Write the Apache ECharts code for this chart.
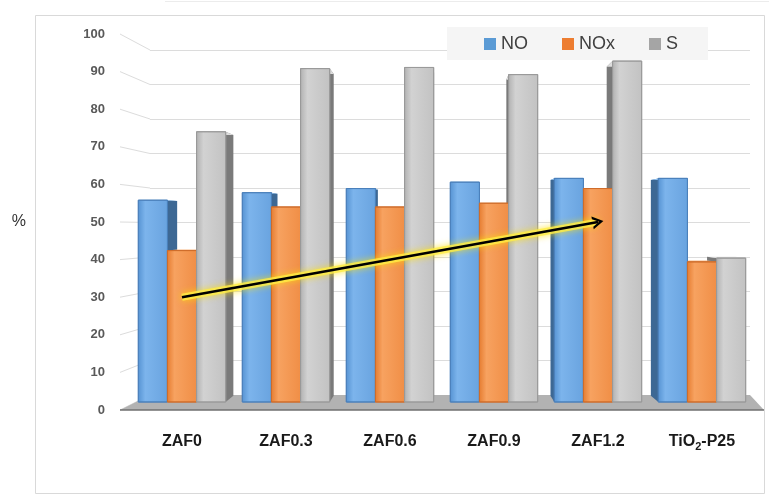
<!DOCTYPE html>
<html>
<head>
<meta charset="utf-8">
<script src="https://cdn.jsdelivr.net/npm/echarts@6/dist/echarts.min.js"></script>
<style>
  html, body { margin: 0; padding: 0; background: #ffffff; }
  #chart { width: 769px; height: 498px; }
</style>
</head>
<body>
<div id="chart"></div>
<script>
// Conversion of NO, NOx and selectivity (S) for each photocatalyst, in %
const categories = ['ZAF0', 'ZAF0.3', 'ZAF0.6', 'ZAF0.9', 'ZAF1.2', 'TiO2-P25'];
const noValues   = [55.8, 57.8, 58.9, 60.6, 61.6, 61.6];
const noxValues  = [42.4, 54.0, 54.0, 55.0, 58.9, 39.4];
const sValues    = [74.0, 90.8, 91.1, 89.2, 92.8, 40.4];

// value axis range and step
const yMin = 0, yMax = 100, yStep = 10;

// trend arrow drawn over the NOx bars, from ZAF0 to ZAF1.2
const trendStart = [categories[0], 30];
const trendEnd   = [categories[4], 50];

// pseudo-3D look
const VANISH_X = 445;      // horizontal vanishing point of the bar sides
const DEPTH = 0.965;       // back-face shrink toward the eye point
const EYE_VALUE = 50;      // value at eye height
const FLOOR_INSET = 8;     // bars stand a little behind the floor's front edge
const BAR_FRAC = 0.28;     // bar width as share of a category band

const palettes = {
  NO:  { legend: '#5b9bd5', stops: ['#5592d2', '#7cb4ec', '#69a3df'], edge: '#4b80bb', side: '#3d6894', top: '#93c2f0' },
  NOx: { legend: '#ed7d31', stops: ['#e57b2f', '#f7a260', '#f08e46'], edge: '#cf6d2b', side: '#b45c1c', top: '#f8b884' },
  S:   { legend: '#a5a5a5', stops: ['#b0b0b0', '#d2d2d2', '#c2c2c2'], edge: '#9a9a9a', side: '#7a7a7a', top: '#dedede' }
};

function bar3D(slot, pal) {
  const fill = new echarts.graphic.LinearGradient(0, 0, 1, 0, [
    { offset: 0, color: pal.stops[0] },
    { offset: 0.25, color: pal.stops[1] },
    { offset: 1, color: pal.stops[2] }
  ]);
  return function (params, api) {
    const i = api.value(0);
    const v = api.value(1);
    const base = api.coord([i, yMin]);
    const top = api.coord([i, v]);
    const eyeY = api.coord([i, EYE_VALUE])[1];
    const band = api.size([1, 0])[0];
    const w = band * BAR_FRAC;
    const cx = base[0] + slot * w;
    const xl = cx - w / 2, xr = cx + w / 2;
    const yT = top[1], yB = base[1] - FLOOR_INSET;
    const bx = x => VANISH_X + (x - VANISH_X) * DEPTH;
    const by = y => eyeY + (y - eyeY) * DEPTH;
    const children = [];
    let sx = null;
    if (xr < VANISH_X) sx = xr; else if (xl > VANISH_X) sx = xl;
    if (sx !== null) {
      children.push({
        type: 'polygon', z2: 1,
        shape: { points: [[sx, yT], [bx(sx), by(yT)], [bx(sx), by(yB)], [sx, yB]] },
        style: { fill: pal.side }
      });
    }
    children.push({
      type: 'polygon', z2: 2,
      shape: { points: [[xl, yT], [xr, yT], [bx(xr), by(yT)], [bx(xl), by(yT)]] },
      style: { fill: pal.top }
    });
    children.push({
      type: 'rect', z2: 10,
      shape: { x: xl, y: yT, width: w, height: yB - yT },
      style: { fill: fill, stroke: pal.edge, lineWidth: 1 }
    });
    return { type: 'group', children: children };
  };
}

function seriesData(values) {
  return values.map((v, i) => [i, v]);
}

const labelFont = 'Liberation Sans, Arial, sans-serif';
const arrowHead = 'path://M0,10 L5,0 L10,10 L8,10 L5,4 L2,10 Z';

// "O2" in a sample name is written with a subscript 2
function categoryLabel(name) {
  const k = name.indexOf('O2');
  if (k < 0) return '{n|' + name + '}';
  return '{n|' + name.slice(0, k + 1) + '}{sub|2}{n|' + name.slice(k + 2) + '}';
}

const chart = echarts.init(document.getElementById('chart'), null, { renderer: 'canvas' });

const option = {
  animation: false,
  backgroundColor: '#ffffff',
  legend: {
    left: 447, top: 27,
    padding: [8, 30, 7, 37],
    backgroundColor: '#f5f5f5',
    itemWidth: 12, itemHeight: 12, itemGap: 34,
    icon: 'rect',
    textStyle: { fontFamily: labelFont, fontSize: 18, color: '#404040' },
    data: ['NO', 'NOx', 'S']
  },
  grid: [
    // front plane: value labels and bars
    { left: 130, right: 15, top: 34, bottom: 88 },
    // back wall: gridlines
    { left: 150, right: 19, top: 50, bottom: 103 }
  ],
  xAxis: [
    {
      type: 'category', gridIndex: 0, data: categories,
      axisLine: { show: false }, axisTick: { show: false },
      axisLabel: {
        interval: 0, margin: 22,
        formatter: categoryLabel,
        rich: {
          n: { fontFamily: labelFont, fontSize: 16, fontWeight: 'bold', color: '#1a1a1a', lineHeight: 20 },
          sub: { fontFamily: labelFont, fontSize: 11, fontWeight: 'bold', color: '#1a1a1a', lineHeight: 13, verticalAlign: 'bottom' }
        }
      }
    },
    { type: 'category', gridIndex: 1, data: categories, show: false }
  ],
  yAxis: [
    {
      type: 'value', gridIndex: 0, min: yMin, max: yMax, interval: yStep,
      name: '%', nameLocation: 'middle', nameRotate: 0, nameGap: 104,
      nameTextStyle: { fontFamily: labelFont, fontSize: 16, color: '#333333', padding: [0, 0, 16, 0] },
      axisLine: { show: false }, axisTick: { show: false }, splitLine: { show: false },
      axisLabel: { margin: 25, fontFamily: labelFont, fontSize: 13, fontWeight: 'bold', color: '#595959' }
    },
    {
      type: 'value', gridIndex: 1, min: yMin, max: yMax, interval: yStep,
      axisLine: { show: false }, axisTick: { show: false }, axisLabel: { show: false },
      splitLine: { lineStyle: { color: '#dcdcdc', width: 1 } }
    }
  ],
  series: [
    {
      name: 'NO', type: 'custom', xAxisIndex: 0, yAxisIndex: 0,
      itemStyle: { color: palettes.NO.legend },
      renderItem: bar3D(-1, palettes.NO),
      data: seriesData(noValues)
    },
    {
      name: 'NOx', type: 'custom', xAxisIndex: 0, yAxisIndex: 0,
      itemStyle: { color: palettes.NOx.legend },
      renderItem: bar3D(0, palettes.NOx),
      data: seriesData(noxValues),
      markLine: {
        silent: true, z: 20,
        symbol: ['none', arrowHead],
        symbolSize: [13, 11],
        label: { show: false },
        data: [
          // soft yellow glow under the arrow
          [
            { coord: trendStart, symbol: 'none',
              lineStyle: { type: 'solid', color: 'rgba(255, 238, 70, 0.8)', width: 7, shadowColor: 'rgba(255, 225, 0, 0.9)', shadowBlur: 7 } },
            { coord: trendEnd, symbol: 'none' }
          ],
          [
            { coord: trendStart, lineStyle: { type: 'solid', color: '#000000', width: 2.6 } },
            { coord: trendEnd }
          ]
        ]
      }
    },
    {
      name: 'S', type: 'custom', xAxisIndex: 0, yAxisIndex: 0,
      itemStyle: { color: palettes.S.legend },
      renderItem: bar3D(1, palettes.S),
      data: seriesData(sValues)
    }
  ]
};

chart.setOption(option);

// Side wall lines and floor, placed from both grids' value scales
function wallAndFloor() {
  const front = v => chart.convertToPixel({ xAxisIndex: 0, yAxisIndex: 0 }, [0, v])[1];
  const back = v => chart.convertToPixel({ xAxisIndex: 1, yAxisIndex: 1 }, [0, v])[1];
  const frontLeft = 120, wallLeft = 150, wallRight = 750, frontRight = 764;
  const els = [];
  for (let v = yMin; v <= yMax; v += yStep) {
    els.push({
      type: 'line', z: 0,
      shape: { x1: frontLeft, y1: front(v), x2: wallLeft, y2: back(v) },
      style: { stroke: '#dcdcdc', lineWidth: 1 }
    });
  }
  els.push({
    type: 'polygon', z: 1,
    shape: { points: [[frontLeft, front(yMin)], [frontRight, front(yMin)], [wallRight, back(yMin)], [wallLeft, back(yMin)]] },
    style: { fill: '#b2b2b2' }
  });
  els.push({
    type: 'line', z: 1,
    shape: { x1: frontLeft, y1: front(yMin), x2: frontRight, y2: front(yMin) },
    style: { stroke: '#6f6f6f', lineWidth: 1.5 }
  });
  els.push({
    type: 'rect', z: 0,
    shape: { x: 35.5, y: 15.5, width: 729, height: 478 },
    style: { fill: 'none', stroke: '#d9d9d9', lineWidth: 1 }
  });
  els.push({
    type: 'line', z: 0,
    shape: { x1: 165, y1: 1.5, x2: 769, y2: 1.5 },
    style: { stroke: '#ececec', lineWidth: 1 }
  });
  chart.setOption({ graphic: { elements: els } });
}
wallAndFloor();
</script>
</body>
</html>
